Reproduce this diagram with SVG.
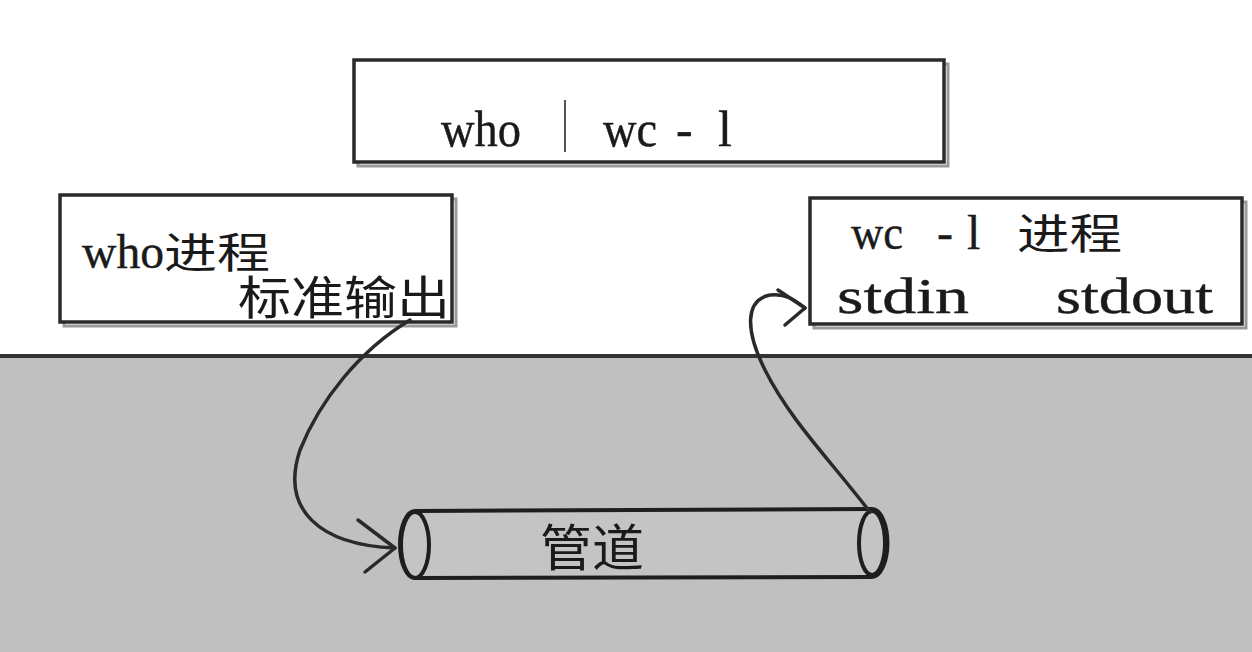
<svg xmlns="http://www.w3.org/2000/svg" width="1252" height="652" viewBox="0 0 1252 652">
<defs>
<style>
.box{fill:#fff;stroke:#2a2a2a;stroke-width:3.5}
.shadow{fill:none;stroke:#9a9a9a;stroke-width:3}
.lat{font-family:"Liberation Serif","Noto Sans CJK SC",serif;fill:#1a1a1a;stroke:#1a1a1a;stroke-width:0.4}
.cjk{font-family:"Noto Sans CJK SC",sans-serif;fill:#1a1a1a}
.wire{fill:none;stroke:#2a2a2a;stroke-width:3.5;stroke-linecap:round;stroke-linejoin:round}
.pipe{fill:#c4c4c4;stroke:#1e1e1e;stroke-width:4}
</style>
</defs>
<rect x="0" y="0" width="1252" height="652" fill="#fff"/>
<rect id="ground" x="0" y="356" width="1252" height="296" fill="#c0c0c0"/>
<line x1="0" y1="356" x2="1252" y2="356" stroke="#333" stroke-width="4"/>

<g id="cmd">
<rect class="shadow" x="358" y="64" width="590" height="102"/>
<rect class="box" x="354" y="60" width="590" height="102"/>
<text class="lat" x="441" y="146" font-size="50" textLength="80" lengthAdjust="spacingAndGlyphs">who</text>
<line x1="565" y1="100" x2="565" y2="152" stroke="#555" stroke-width="2"/>
<text class="lat" y="146" font-size="50"><tspan x="603" textLength="54" lengthAdjust="spacingAndGlyphs">wc</tspan> <tspan x="676">-</tspan><tspan x="718">l</tspan></text>
</g>

<g id="who-proc">
<rect class="shadow" x="64" y="199" width="392" height="127"/>
<rect class="box" x="60" y="195" width="392" height="127"/>
<text class="lat" x="82" y="268" font-size="48" textLength="82" lengthAdjust="spacingAndGlyphs">who</text>
<text class="cjk" x="164" y="268" font-size="42" textLength="106" lengthAdjust="spacingAndGlyphs">进程</text>
<text class="cjk" x="238" y="314" font-size="46" textLength="212" lengthAdjust="spacingAndGlyphs">标准输出</text>
</g>

<g id="wc-proc">
<rect class="shadow" x="814" y="202" width="432" height="126"/>
<rect class="box" x="810" y="198" width="432" height="126"/>
<text class="lat" y="249" font-size="48"><tspan x="851" textLength="52" lengthAdjust="spacingAndGlyphs">wc</tspan> <tspan x="937">-</tspan><tspan x="967">l</tspan></text>
<text class="cjk" x="1017" y="249" font-size="42" textLength="105" lengthAdjust="spacingAndGlyphs">进程</text>
<text class="lat" x="837" y="313" font-size="50" textLength="132" lengthAdjust="spacingAndGlyphs">stdin</text>
<text class="lat" x="1056" y="313" font-size="50" textLength="157" lengthAdjust="spacingAndGlyphs">stdout</text>
</g>

<g id="pipe">
<path class="pipe" d="M415,511 L872,509 A15,33 0 0 1 872,577 L415,578 A15,33.5 0 0 1 415,511 Z"/>
<ellipse cx="415" cy="545" rx="14" ry="33" fill="none" stroke="#1e1e1e" stroke-width="4"/>
<ellipse cx="872" cy="543" rx="13" ry="32" fill="none" stroke="#1e1e1e" stroke-width="4"/>
<text class="cjk" x="540" y="566" font-size="50" textLength="104" lengthAdjust="spacingAndGlyphs">管道</text>
</g>

<g id="connectors">
<path class="wire" d="M410,320 C360,350 320,400 300,450 C280,510 320,545 395,548"/>
<path class="wire" d="M358,520 L395,548 L365,572"/>
<path class="wire" d="M870,512 C830,460 790,420 765,370 C745,330 745,300 770,295 C785,293 795,300 805,308"/>
<path class="wire" d="M778,290 L805,308 L785,325"/>
</g>
</svg>
